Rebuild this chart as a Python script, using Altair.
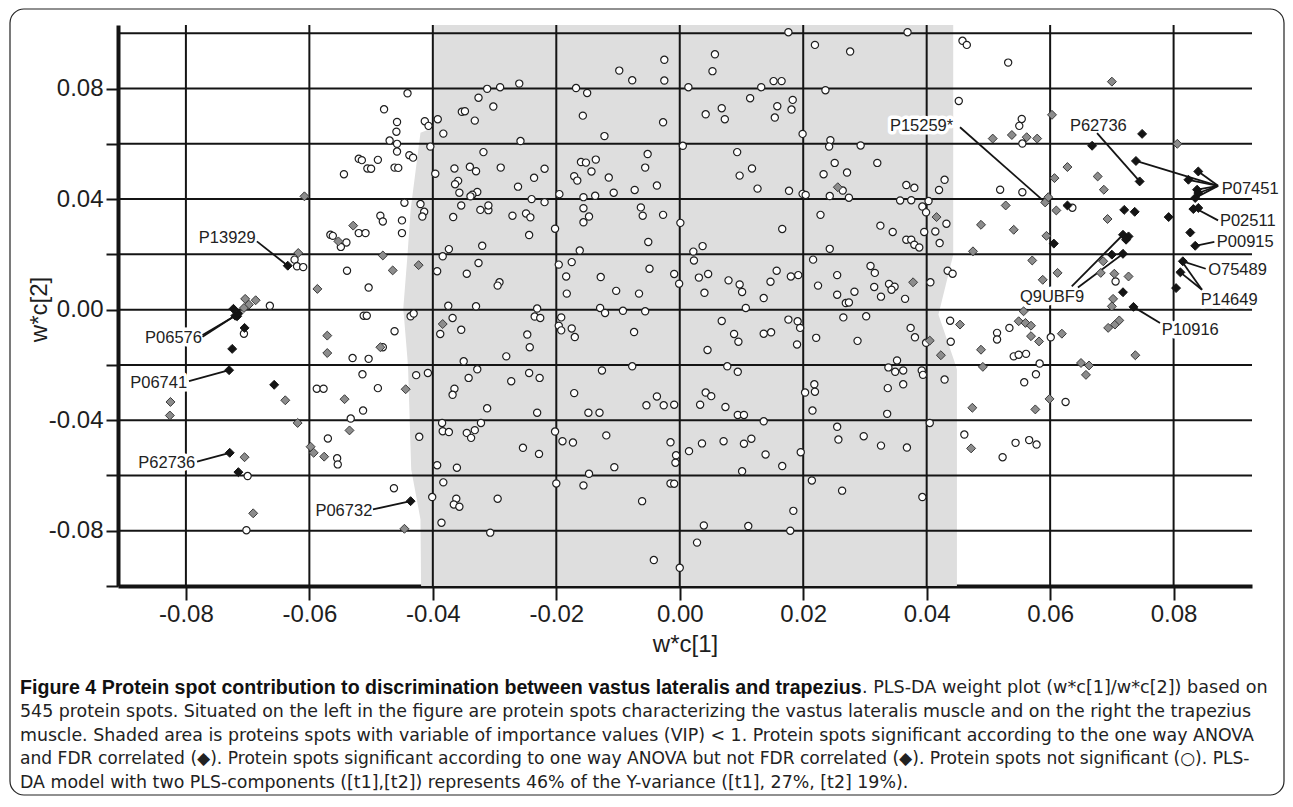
import altair as alt
import pandas as pd

# ---------------- data ----------------
circle_pts = [
(-0.0441,0.0783),(-0.0479,0.0725),(-0.0458,0.0679),(-0.0459,0.0644),(-0.0470,0.0612),(-0.0458,0.0600),(-0.0458,0.0572),(-0.0438,0.0559),(-0.0432,0.0550),(-0.0520,0.0546),(-0.0515,0.0541),(-0.0489,0.0542),(-0.0506,0.0511),(-0.0500,0.0510),(-0.0462,0.0514),(-0.0456,0.0513),(-0.0544,0.0490),(-0.0413,0.0682),(-0.0407,0.0665),(-0.0392,0.0689),(-0.0383,0.0637),(-0.0404,0.0590),(-0.0396,0.0492),(-0.0312,0.0799),(-0.0291,0.0805),(-0.0260,0.0818),(-0.0326,0.0767),(-0.0302,0.0735),(-0.0353,0.0716),(-0.0348,0.0718),(-0.0332,0.0684),(-0.0258,0.0610),(-0.0318,0.0570),(-0.0365,0.0511),(-0.0340,0.0517),(-0.0330,0.0501),(-0.0290,0.0514),(-0.0219,0.0510),(-0.0236,0.0477),(-0.0359,0.0466),(-0.0364,0.0454),(-0.0262,0.0445),(-0.0357,0.0423),(-0.0328,0.0426),(-0.0336,0.0416),(-0.0339,0.0410),(-0.0240,0.0400),(-0.0219,0.0389),(-0.0195,0.0418),(-0.0168,0.0802),(-0.0150,0.0784),(-0.0157,0.0702),(-0.0122,0.0628),(-0.0098,0.0865),(-0.0077,0.0830),(-0.0160,0.0534),(-0.0152,0.0532),(-0.0136,0.0543),(-0.0143,0.0500),(-0.0171,0.0483),(-0.0166,0.0467),(-0.0115,0.0478),(-0.0107,0.0423),(-0.0073,0.0433),(-0.0156,0.0407),(-0.0137,0.0412),(-0.0052,0.0563),(-0.0056,0.0514),(-0.0446,0.0387),(-0.0420,0.0382),(-0.0414,0.0354),(-0.0417,0.0337),(-0.0485,0.0340),(-0.0450,0.0323),(-0.0354,0.0377),(-0.0323,0.0361),(-0.0310,0.0360),(-0.0310,0.0377),(-0.0367,0.0335),(-0.0271,0.0340),(-0.0249,0.0348),(-0.0242,0.0334),(-0.0156,0.0367),(-0.0147,0.0337),(-0.0063,0.0370),(-0.0060,0.0340),
(0.0176,0.1004),(0.0369,0.1004),(0.0219,0.0958),(0.0276,0.0934),(0.0458,0.0973),(0.0465,0.0958),(-0.0025,0.0904),(0.0057,0.0924),(0.0053,0.0863),(-0.0025,0.0829),(0.0014,0.0805),(0.0132,0.0805),(0.0152,0.0827),(0.0165,0.0827),(0.0236,0.0794),(0.0114,0.0765),(0.0068,0.0729),(0.0073,0.0689),(0.0042,0.0707),(0.0158,0.0736),(0.0181,0.0724),(0.0183,0.0759),(0.0154,0.0695),(-0.0027,0.0678),(0.0452,0.0755),(0.0199,0.0636),(0.0005,0.0593),(0.0244,0.0613),(0.0242,0.0590),(0.0293,0.0594),(0.0093,0.0570),(0.0097,0.0485),(0.0117,0.0511),(0.0126,0.0438),(-0.0037,0.0449),(0.0177,0.0430),(0.0199,0.0419),(0.0204,0.0415),(0.0251,0.0531),(0.0233,0.0490),(0.0271,0.0496),(0.0320,0.0531),(0.0264,0.0431),(0.0274,0.0405),(0.0243,0.0411),(0.0367,0.0451),(0.0380,0.0441),(0.0357,0.0395),(0.0375,0.0396),(0.0403,0.0393),(0.0429,0.0470),(0.0420,0.0433),(0.0393,0.0373),(0.0399,0.0352),(0.0228,0.0343),(-0.0027,0.0343),
(0.0532,0.0894),(0.0554,0.0690),(0.0550,0.0665),(0.0555,0.0601),(0.0519,0.0434),(0.0555,0.0425),(0.0636,0.0369),
(0.0706,0.0102),(0.0534,-0.0066),(0.0514,-0.0084),(0.0514,-0.0108),(0.0601,-0.0100),(0.0541,-0.0169),(0.0549,-0.0163),(0.0561,-0.0160),(0.0583,-0.0195),(0.0577,-0.0234),(0.0558,-0.0263),(0.0625,-0.0334),
(0.0461,-0.0452),(0.0523,-0.0534),(0.0544,-0.0482),(0.0566,-0.0472),(0.0578,-0.0488),
(0.0255,-0.0424),(0.0257,-0.0470),(0.0298,-0.0458),(0.0326,-0.0492),(0.0368,-0.0499),(0.0405,-0.0410),(0.0393,-0.0678),(0.0214,-0.0618),(0.0263,-0.0655),(0.0136,-0.0404),(-0.0015,-0.0480),(-0.0006,-0.0527),(-0.0007,-0.0554),(0.0015,-0.0512),(0.0036,-0.0484),(0.0071,-0.0476),(0.0104,-0.0485),(0.0116,-0.0467),(0.0139,-0.0524),(0.0166,-0.0566),(0.0196,-0.0516),(0.0101,-0.0585),(-0.0015,-0.0629),(-0.0009,-0.0630),(-0.0061,-0.0693),(0.0184,-0.0728),(0.0039,-0.0781),(0.0111,-0.0783),(0.0179,-0.0800),(0.0028,-0.0843),(-0.0042,-0.0906),(0.0000,-0.0934),
(-0.0570,-0.0466),(-0.0555,-0.0538),(-0.0554,-0.0560),(-0.0422,-0.0460),(-0.0385,-0.0410),(-0.0384,-0.0440),(-0.0374,-0.0443),(-0.0345,-0.0446),(-0.0338,-0.0464),(-0.0332,-0.0436),(-0.0322,-0.0410),(-0.0254,-0.0500),(-0.0228,-0.0522),(-0.0202,-0.0441),(-0.0190,-0.0476),(-0.0173,-0.0481),(-0.0119,-0.0455),(-0.0106,-0.0570),(-0.0147,-0.0594),(-0.0156,-0.0636),(-0.0200,-0.0629),(-0.0393,-0.0563),(-0.0361,-0.0572),(-0.0383,-0.0625),(-0.0401,-0.0678),(-0.0362,-0.0684),(-0.0366,-0.0705),(-0.0357,-0.0713),(-0.0295,-0.0684),(-0.0386,-0.0771),(-0.0307,-0.0807),(-0.0463,-0.0646),
(-0.0700,-0.0602),(-0.0702,-0.0798),
(-0.0624,0.0181),(-0.0620,0.0157),(-0.0610,0.0154),(-0.0664,0.0014),(-0.0706,-0.0087),(-0.0588,-0.0286),(-0.0577,-0.0286),(-0.0566,0.0271),
(-0.0481,0.0319),(-0.0520,0.0277),(-0.0509,0.0277),(-0.0450,0.0277),(-0.0562,0.0267),(-0.0540,0.0243),(-0.0549,0.0227),(-0.0539,0.0141),(-0.0504,0.0080),(-0.0512,-0.0022),(-0.0507,-0.0022),(-0.0436,-0.0024),(-0.0431,-0.0014),(-0.0462,-0.0078),(-0.0481,-0.0136),(-0.0530,-0.0175),(-0.0504,-0.0178),(-0.0514,-0.0234),(-0.0489,-0.0284),(-0.0513,-0.0365),(-0.0533,-0.0394),(-0.0427,-0.0237),(-0.0408,-0.0229),
(-0.0374,0.0219),(-0.0384,0.0193),(-0.0393,0.0139),(-0.0345,0.0130),(-0.0326,0.0169),(-0.0320,0.0231),(-0.0292,0.0099),(-0.0295,0.0087),(-0.0244,0.0270),(-0.0202,0.0293),(-0.0375,0.0014),(-0.0330,0.0012),(-0.0231,0.0004),(-0.0235,-0.0025),(-0.0226,-0.0030),(-0.0368,-0.0030),(-0.0388,-0.0088),(-0.0354,-0.0073),(-0.0247,-0.0090),(-0.0243,-0.0136),(-0.0281,-0.0169),(-0.0350,-0.0187),(-0.0328,-0.0216),(-0.0342,-0.0247),(-0.0273,-0.0259),(-0.0244,-0.0229),(-0.0227,-0.0247),(-0.0365,-0.0286),(-0.0368,-0.0308),(-0.0312,-0.0357),(-0.0231,-0.0373),(-0.0196,0.0163),(-0.0175,0.0172),(-0.0162,0.0214),(-0.0156,0.0316),(-0.0184,0.0120),(-0.0183,0.0058),(-0.0128,0.0118),(-0.0103,0.0068),(-0.0066,0.0058),(-0.0051,0.0245),(-0.0049,0.0148),(-0.0129,0.0006),(-0.0121,-0.0012),(-0.0092,-0.0004),(-0.0056,-0.0006),(-0.0192,-0.0028),(-0.0196,-0.0058),(-0.0192,-0.0075),(-0.0175,-0.0068),(-0.0170,-0.0099),(-0.0074,-0.0081),(-0.0126,-0.0220),(-0.0077,-0.0205),(-0.0171,-0.0302),(-0.0148,-0.0373),(-0.0130,-0.0373),(-0.0054,-0.0346),
(0.0001,0.0314),(0.0166,0.0292),(0.0022,0.0210),(0.0037,0.0230),(0.0023,0.0178),(-0.0009,0.0129),(-0.0001,0.0094),(0.0031,0.0116),(0.0046,0.0129),(0.0040,0.0061),(0.0079,0.0106),(0.0097,0.0091),(0.0101,0.0064),(0.0136,0.0042),(0.0147,0.0101),(0.0157,0.0141),(0.0180,0.0120),(0.0192,0.0125),(0.0107,0.0006),(0.0216,0.0181),(0.0243,0.0220),(0.0224,0.0087),(0.0255,0.0125),(0.0255,0.0054),(0.0269,0.0024),(0.0274,0.0026),(0.0283,0.0065),(0.0309,0.0158),(0.0316,0.0133),(0.0315,0.0082),(0.0326,0.0047),(0.0339,0.0093),(0.0348,0.0083),(0.0343,0.0072),(0.0325,0.0304),(0.0345,0.0281),(0.0367,0.0253),(0.0375,0.0253),(0.0380,0.0235),(0.0388,0.0225),(0.0396,0.0281),(0.0414,0.0283),(0.0421,0.0241),(0.0432,0.0311),(0.0365,0.0039),(0.0406,0.0099),(0.0434,0.0141),(0.0442,0.0130),(0.0438,-0.0040),(0.0439,-0.0116),(0.0374,-0.0066),(0.0381,-0.0100),(0.0399,-0.0120),(0.0265,-0.0028),(0.0302,-0.0024),(0.0288,-0.0113),(0.0221,-0.0102),(0.0176,-0.0036),(0.0191,-0.0042),(0.0195,-0.0066),(0.0190,-0.0126),(0.0136,-0.0087),(0.0148,-0.0082),(0.0068,-0.0041),(0.0088,-0.0088),(0.0095,-0.0116),(0.0045,-0.0146),(0.0077,-0.0205),(0.0094,-0.0225),(0.0352,-0.0184),(0.0338,-0.0209),(0.0349,-0.0225),(0.0362,-0.0220),(0.0392,-0.0220),(0.0394,-0.0236),(0.0362,-0.0270),(0.0337,-0.0284),(0.0429,-0.0253),(0.0218,-0.0270),(0.0203,-0.0300),(0.0219,-0.0297),(0.0215,-0.0365),(0.0336,-0.0377),(0.0042,-0.0300),(0.0051,-0.0313),(0.0033,-0.0344),(0.0074,-0.0352),(0.0094,-0.0381),(0.0104,-0.0381),(-0.0037,-0.0314),(-0.0026,-0.0346),(-0.0009,-0.0344),
]

gray_pts = [
(-0.0608,0.0410),(0.0256,0.0443),(0.0416,0.0335),(0.0700,0.0825),(0.0603,0.0705),(0.0507,0.0619),(0.0538,0.0632),(0.0562,0.0624),(0.0579,0.0619),(0.0806,0.0600),(0.0628,0.0516),(0.0607,0.0476),(0.0677,0.0482),(0.0687,0.0434),(0.0528,0.0377),(0.0592,0.0388),(0.0597,0.0407),(0.0610,0.0359),
(0.0686,0.0175),(0.0682,0.0133),(0.0704,0.0130),(0.0727,0.0120),(0.0702,0.0039),(0.0700,0.0012),(0.0694,-0.0066),(0.0705,-0.0054),(0.0712,-0.0039),(0.0738,-0.0165),(0.0693,0.0328),(0.0488,0.0307),(0.0541,0.0289),(0.0594,0.0267),(0.0475,0.0211),(0.0571,0.0178),(0.0612,0.0133),(0.0588,0.0108),(0.0557,-0.0006),(0.0549,-0.0042),(0.0560,-0.0048),(0.0569,-0.0058),(0.0569,-0.0096),(0.0582,-0.0115),(0.0619,-0.0087),(0.0454,-0.0054),(0.0488,-0.0145),(0.0491,-0.0207),(0.0650,-0.0193),(0.0663,-0.0202),(0.0658,-0.0236),(0.0599,-0.0323),(0.0474,-0.0355),(0.0576,-0.0361),
(0.0472,-0.0502),(0.0378,0.0099),(0.0405,-0.0112),(0.0423,-0.0165),
(-0.0535,-0.0437),(-0.0576,-0.0532),(-0.0446,-0.0793),
(-0.0619,-0.0410),(-0.0598,-0.0496),(-0.0593,-0.0518),(-0.0705,-0.0534),(-0.0691,-0.0737),
(-0.0618,0.0205),(-0.0587,0.0075),(-0.0704,0.0039),(-0.0687,0.0034),(-0.0698,0.0018),(-0.0706,0.0006),(-0.0639,-0.0328),(-0.0825,-0.0334),(-0.0826,-0.0383),(-0.0571,-0.0094),(-0.0571,-0.0157),
(-0.0529,0.0304),(-0.0553,0.0247),(-0.0481,0.0196),(-0.0465,0.0142),(-0.0423,0.0161),(-0.0485,-0.0136),(-0.0444,-0.0288),(-0.0543,-0.0324),(-0.0384,-0.0052),
]

black_pts = [
(0.0668,0.0593),(0.0749,0.0636),(0.0739,0.0538),(0.0745,0.0464),(0.0628,0.0377),(0.0720,0.0361),(0.0737,0.0354),(0.0792,0.0335),(0.0840,0.0500),(0.0824,0.0470),(0.0838,0.0434),(0.0840,0.0422),(0.0835,0.0404),(0.0832,0.0364),(0.0840,0.0368),
(0.0827,0.0279),(0.0835,0.0231),(0.0815,0.0175),(0.0811,0.0135),(0.0804,0.0078),(0.0718,0.0271),(0.0727,0.0265),(0.0723,0.0253),(0.0718,0.0202),(0.0700,0.0199),(0.0718,0.0063),(0.0735,0.0010),(0.0606,0.0239),
(-0.0436,-0.0693),(-0.0729,-0.0518),(-0.0715,-0.0588),(-0.0635,0.0159),(-0.0723,0.0003),(-0.0717,-0.0024),(-0.0715,-0.0014),(-0.0720,-0.0022),(-0.0705,-0.0066),(-0.0725,-0.0142),(-0.0730,-0.0219),(-0.0657,-0.0272),
]

# VIP < 1 shaded band (left / right boundary at given w*c[2])
shade_y     = [0.103, 0.0658, 0.0640, 0.0361, 0.0199, 0.0, -0.0018, -0.0181, -0.0217, -0.0578, -0.0759, -0.100]
shade_left  = [-0.0399, -0.0399, -0.0420, -0.0436, -0.0441, -0.0448, -0.0447, -0.0441, -0.0440, -0.0435, -0.0420, -0.0419]
shade_right = [0.0443, 0.0443, 0.0443, 0.0443, 0.0443, 0.0421, 0.0419, 0.0444, 0.0449, 0.0449, 0.0449, 0.0449]

grid_x = [-0.08, -0.06, -0.04, -0.02, 0.0, 0.02, 0.04, 0.06, 0.08]
grid_y = [-0.08, -0.06, -0.04, -0.02, 0.0, 0.02, 0.04, 0.06, 0.08, 0.10]
x_ticks = [-0.08, -0.06, -0.04, -0.02, 0.0, 0.02, 0.04, 0.06, 0.08]
y_ticks = [-0.10, -0.08, -0.06, -0.04, -0.02, 0.0, 0.02, 0.04, 0.06, 0.08]

label_text  = ["P15259*", "P62736", "P07451", "P02511", "P00915", "O75489", "P14649", "P10916", "Q9UBF9",
               "P13929", "P06576", "P06741", "P62736", "P06732"]
label_x     = [0.0443, 0.0632, 0.0878, 0.0875, 0.0870, 0.0856, 0.0844, 0.0781, 0.0603,
               -0.0687, -0.0774, -0.0798, -0.0785, -0.0498]
label_y     = [0.0665, 0.0665, 0.0436, 0.0319, 0.0243, 0.0142, 0.0034, -0.0072, 0.0046,
               0.0259, -0.0102, -0.0265, -0.0554, -0.0729]
label_align = ["right", "left", "left", "left", "left", "left", "left", "left", "center",
               "right", "right", "right", "right", "right"]

lead_x1 = [0.0454, 0.0676, 0.0872, 0.0872, 0.0872, 0.0872, 0.0872, 0.0872, 0.0872, 0.0866, 0.0852, 0.0846, 0.0846, 0.0778, 0.0635, 0.0645,
           -0.0685, -0.0773, -0.0773, -0.0795, -0.0782, -0.0497]
lead_y1 = [0.0660, 0.0639, 0.0448, 0.0448, 0.0448, 0.0448, 0.0448, 0.0448, 0.0323, 0.0245, 0.0148, 0.0072, 0.0072, -0.0048, 0.0084, 0.0080,
           0.0247, -0.0092, -0.0098, -0.0259, -0.0550, -0.0723]
lead_x2 = [0.0592, 0.0745, 0.0739, 0.0840, 0.0824, 0.0838, 0.0840, 0.0835, 0.0836, 0.0835, 0.0815, 0.0811, 0.0815, 0.0735, 0.0718, 0.0718,
           -0.0635, -0.0720, -0.0715, -0.0730, -0.0729, -0.0436]
lead_y2 = [0.0388, 0.0464, 0.0538, 0.0500, 0.0470, 0.0434, 0.0422, 0.0404, 0.0366, 0.0231, 0.0175, 0.0135, 0.0170, 0.0010, 0.0271, 0.0202,
           0.0159, -0.0022, -0.0014, -0.0219, -0.0518, -0.0693]

caption_bold = "Figure 4 Protein spot contribution to discrimination between vastus lateralis and trapezius"
caption_first = ". PLS-DA weight plot (w*c[1]/w*c[2]) based on"
caption_rest = [
    "545 protein spots. Situated on the left in the figure are protein spots characterizing the vastus lateralis muscle and on the right the trapezius",
    "muscle. Shaded area is proteins spots with variable of importance values (VIP) < 1. Protein spots significant according to the one way ANOVA",
    "and FDR correlated (\u25c6). Protein spots significant according to one way ANOVA but not FDR correlated (\u25c6). Protein spots not significant (\u25cb). PLS-",
    "DA model with two PLS-components ([t1],[t2]) represents 46% of the Y-variance ([t1], 27%, [t2] 19%).",
]

# ---------------- frames ----------------
circ_df = pd.DataFrame(circle_pts, columns=["x", "y"])
gray_df = pd.DataFrame(gray_pts, columns=["x", "y"])
blk_df = pd.DataFrame(black_pts, columns=["x", "y"])
shade_df = pd.DataFrame({"y": shade_y, "xl": shade_left, "xr": shade_right})
gx_df = pd.DataFrame({"x": grid_x})
gy_df = pd.DataFrame({"y": grid_y})
lab_df = pd.DataFrame({"t": label_text, "x": label_x, "y": label_y, "a": label_align})
lead_df = pd.DataFrame({"x": lead_x1, "y": lead_y1, "x2": lead_x2, "y2": lead_y2})
one = pd.DataFrame({"k": [0]})

FONT = "Liberation Sans"
CAPFONT = "DejaVu Sans"
INK = "#141414"
xs = alt.Scale(domain=[-0.091, 0.0927], nice=False, zero=False)
ys = alt.Scale(domain=[-0.100, 0.103], nice=False, zero=False)

fmt = "replace(format(datum.value, '.2f'), '\u2212', '-')"
x_axis = alt.Axis(values=x_ticks, labelExpr=fmt, title="w*c[1]", grid=False,
                  tickSize=14, tickWidth=2, tickColor=INK, domainColor=INK, domainWidth=4,
                  labelFont=FONT, labelFontSize=24, labelColor="#1e1e1e", labelPadding=2,
                  titleFont=FONT, titleFontSize=24, titleFontWeight="normal", titleColor="#1e1e1e",
                  titlePadding=6, labelFlush=False, labelOverlap=False)
y_axis = alt.Axis(values=y_ticks,
                  labelExpr="abs(round(datum.value*100)) % 4 == 0 ? " + fmt + " : ''",
                  title="w*c[2]", grid=False,
                  tickSize=12, tickWidth=2, tickColor=INK, domainColor=INK, domainWidth=4,
                  labelFont=FONT, labelFontSize=24, labelColor="#1e1e1e", labelPadding=3,
                  titleFont=FONT, titleFontSize=24, titleFontWeight="normal", titleColor="#1e1e1e",
                  titleX=-67, titleY=284, labelFlush=False, labelOverlap=False)


def X(field):
    return alt.X(field, scale=xs, axis=x_axis)


def Y(field):
    return alt.Y(field, scale=ys, axis=y_axis)


shade = alt.Chart(shade_df).mark_area(orient="horizontal", color="#dedede", opacity=1).encode(
    y=Y("y:Q"), x=X("xl:Q"), x2="xr:Q")

vgrid = alt.Chart(gx_df).mark_rule(color=INK, strokeWidth=2).encode(x=X("x:Q"))
hgrid = alt.Chart(gy_df).mark_rule(color=INK, strokeWidth=2).encode(y=Y("y:Q"))


def labels(align, halo):
    kw = dict(align=align, baseline="middle", font=FONT, fontSize=16.5)
    if halo:
        kw.update(stroke="white", strokeWidth=7, strokeJoin="round", color="white")
    else:
        kw.update(color="#222222")
    return alt.Chart(lab_df).transform_filter(alt.datum.a == align).mark_text(**kw).encode(
        x=X("x:Q"), y=Y("y:Q"), text="t:N")


halos = [labels(a, True) for a in ["left", "right", "center"]]
texts = [labels(a, False) for a in ["left", "right", "center"]]

leaders = alt.Chart(lead_df).mark_rule(color=INK, strokeWidth=1.8).encode(
    x=X("x:Q"), y=Y("y:Q"), x2="x2:Q", y2="y2:Q")


def pts(df, shape, fill, stroke, size, sw):
    return alt.Chart(df).mark_point(shape=shape, filled=True, fill=fill, stroke=stroke,
                                    strokeWidth=sw, size=size, opacity=1).encode(
        x=X("x:Q"), y=Y("y:Q"))


circles = pts(circ_df, "circle", "white", "#1e1e1e", 52, 1.2)
grays = pts(gray_df, "diamond", "#8c8c8c", "#3a3a3a", 80, 1.0)
blacks = pts(blk_df, "diamond", INK, INK, 80, 1.0)

# figure frame and caption (layout, in pixels relative to the plot origin)
frame = alt.Chart(one).mark_rect(filled=False, stroke="#222222", strokeWidth=1.2, cornerRadius=14).encode(
    x=alt.value(-108), x2=alt.value(1166), y=alt.value(-16), y2=alt.value(770))

cap_layers = [
    alt.Chart(one).mark_text(align="left", baseline="middle", font=FONT, fontSize=19.6,
                             fontWeight="bold", color="#111111").encode(
        x=alt.value(-98), y=alt.value(663), text=alt.value(caption_bold)),
    alt.Chart(one).mark_text(align="left", baseline="middle", font=CAPFONT, fontSize=17.6,
                             color="#222222").encode(
        x=alt.value(-98 + 842), y=alt.value(663), text=alt.value(caption_first)),
]
cap_sizes = [17.4, 17.4, 17.1, 17.4]
for i, line in enumerate(caption_rest):
    cap_layers.append(
        alt.Chart(one).mark_text(align="left", baseline="middle", font=CAPFONT,
                                 fontSize=cap_sizes[i], color="#222222").encode(
            x=alt.value(-98), y=alt.value(687 + 23.5 * i), text=alt.value(line)))

chart = alt.layer(
    shade, vgrid, hgrid, *halos, leaders, circles, grays, blacks, *texts,
    frame, *cap_layers,
).properties(
    width=1134, height=561,
    padding={"left": 110, "top": 17, "right": 33, "bottom": 211},
    autosize=alt.AutoSizeParams(type="none"),
    background="white",
).configure_view(stroke=None)

chart.save("out.html", embed_options={"renderer": "svg", "actions": False})
